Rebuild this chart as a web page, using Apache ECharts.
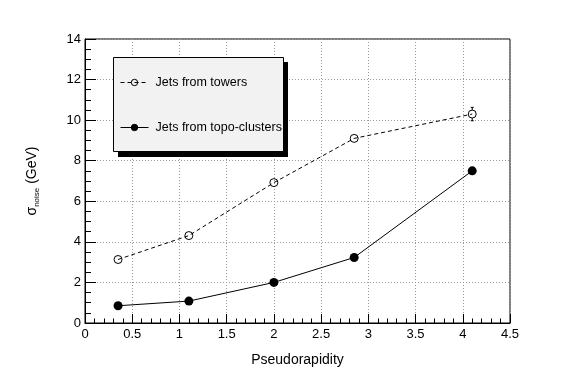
<!DOCTYPE html>
<html><head><meta charset="utf-8">
<script src="https://cdn.jsdelivr.net/npm/echarts@6/dist/echarts.min.js"></script>
<style>html,body{margin:0;padding:0;background:#fff}#c{width:567px;height:381px}</style>
</head><body><div id="c"></div>
<script>
const eta = [0.35, 1.1, 2.0, 2.85, 4.1];
const towers = [3.13, 4.31, 6.92, 9.1, 10.3];
const towersErr = [0, 0, 0, 0, 0.33];
const topo = [0.85, 1.08, 2.0, 3.23, 7.5];
const xTickLabels = ['0','0.5','1','1.5','2','2.5','3','3.5','4','4.5'];
const yTickLabels = ['0','2','4','6','8','10','12','14'];
const seriesNames = ['Jets from towers', 'Jets from topo-clusters'];

const FONT = 'Liberation Sans';
const chart = echarts.init(document.getElementById('c'), null, {renderer:'canvas'});
chart.setOption({
  animation:false,
  backgroundColor:'#fff',
  textStyle:{fontFamily:FONT},
  grid:{left:85,right:57,top:39,bottom:58,show:true,borderColor:'#000',borderWidth:1,backgroundColor:'transparent'},
  xAxis:{
    type:'value',min:0,max:4.5,interval:0.5,
    name:'Pseudorapidity',nameLocation:'middle',nameGap:30,
    nameTextStyle:{fontSize:14,color:'#000',fontFamily:FONT},
    axisLine:{lineStyle:{color:'#000',width:1}},
    axisTick:{inside:true,length:9,lineStyle:{color:'#000'}},
    minorTick:{show:true,splitNumber:5,length:4.5,lineStyle:{color:'#000'}},
    axisLabel:{fontSize:13,color:'#000',margin:5,fontFamily:FONT,
      formatter:v=>xTickLabels[Math.round(v/0.5)]},
    splitLine:{show:true,lineStyle:{color:'#999',type:[1,2],width:1}}
  },
  yAxis:{
    type:'value',min:0,max:14,interval:2,
    name:'{a|σ}{b|noise}{a| (GeV)}',nameLocation:'middle',nameGap:44,nameRotate:90,
    nameTextStyle:{color:'#000',fontFamily:FONT,rich:{
      a:{fontSize:14,fontFamily:FONT,color:'#000'},
      b:{fontSize:8,fontFamily:FONT,color:'#000',padding:[9,0,0,0]}}},
    axisLine:{lineStyle:{color:'#000',width:1}},
    axisTick:{inside:true,length:11,lineStyle:{color:'#000'}},
    minorTick:{show:true,splitNumber:4,length:6,lineStyle:{color:'#000'}},
    axisLabel:{fontSize:13,color:'#000',margin:4,fontFamily:FONT,
      formatter:v=>yTickLabels[Math.round(v/2)]},
    splitLine:{show:true,lineStyle:{color:'#999',type:[1,2],width:1}}
  },
  graphic:[
    {type:'rect',z:5,shape:{x:118,y:62,width:170,height:95},style:{fill:'#000'}},
    {type:'rect',z:6,shape:{x:113.5,y:57.5,width:170,height:94},style:{fill:'#f2f2f2',stroke:'#000',lineWidth:1}}
  ],
  legend:{
    z:10,orient:'vertical',left:120,top:76,padding:0,itemGap:32,itemWidth:28,itemHeight:8,
    data:seriesNames,
    itemStyle:{borderWidth:1},
    lineStyle:{width:1},
    textStyle:{fontSize:12.5,color:'#000',fontFamily:FONT,padding:[0,0,0,2]}
  },
  series:[
    {name:seriesNames[0],type:'line',data:eta.map((x,i)=>[x,towers[i]]),
      symbol:'circle',symbolSize:8,
      itemStyle:{color:'rgba(255,255,255,0)',borderColor:'#000',borderWidth:1},
      lineStyle:{color:'#000',width:1,type:[4,3]},z:3},
    {name:seriesNames[1],type:'line',data:eta.map((x,i)=>[x,topo[i]]),
      symbol:'circle',symbolSize:9,
      itemStyle:{color:'#000',borderColor:'#000',borderWidth:0},
      lineStyle:{color:'#000',width:1},z:3},
    {type:'custom',data:eta.map((x,i)=>[x,towers[i],towersErr[i]]),z:4,silent:true,
      renderItem:(params,api)=>{
        const x=api.value(0),y=api.value(1),e=api.value(2);
        if(!e) return null;
        const c=api.coord([x,y]),t=api.coord([x,y+e]),b=api.coord([x,y-e]);
        const r=4, st={stroke:'#000',lineWidth:1};
        return {type:'group',children:[
          {type:'line',shape:{x1:c[0],y1:c[1]-r,x2:t[0],y2:t[1]},style:st},
          {type:'line',shape:{x1:c[0],y1:c[1]+r,x2:b[0],y2:b[1]},style:st},
          {type:'line',shape:{x1:t[0]-1.5,y1:t[1],x2:t[0]+1.5,y2:t[1]},style:st},
          {type:'line',shape:{x1:b[0]-1.5,y1:b[1],x2:b[0]+1.5,y2:b[1]},style:st}
        ]};
      }}
  ]
});
</script></body></html>
